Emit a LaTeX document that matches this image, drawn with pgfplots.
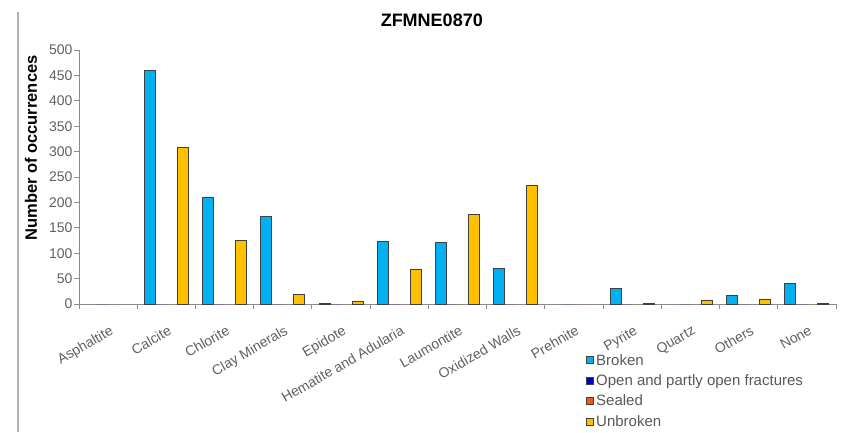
\documentclass[border=0pt]{standalone}
\usepackage{fontspec}
\setmainfont{Liberation Sans}
\usepackage{pgfplots}
\pgfplotsset{compat=1.18}
\definecolor{brokenc}{HTML}{00B0F0}
\definecolor{openc}{HTML}{0000CC}
\definecolor{sealedc}{HTML}{F05A14}
\definecolor{unbrokenc}{HTML}{FFC000}
\definecolor{bardraw}{HTML}{404040}
\definecolor{axisgray}{HTML}{8C8C8C}
\definecolor{ticktext}{HTML}{606060}
\definecolor{legtext}{HTML}{585858}
\pgfplotsset{mylegend/.style={legend image code/.code={\draw[##1, draw=bardraw, line width=0.8pt] (0pt,-3.5pt) rectangle (7pt,3.5pt);}}}
\begin{document}
\begin{tikzpicture}
\useasboundingbox (0pt,0pt) rectangle (856pt,432pt);
\draw[line width=1.2pt, color=gray!60] (18pt,0pt) -- (18pt,420pt);
\begin{axis}[
  at={(79pt,128pt)}, anchor=south west,
  width=757pt, height=254pt, scale only axis,
  xmin=-0.5, xmax=12.5, ymin=0, ymax=500,
  enlargelimits=false,
  axis x line*=bottom, axis y line*=left,
  axis line style={axisgray, line width=1pt},
  ybar=0pt, bar width=11pt,
  xtick={0,...,12},
  xticklabels={Asphaltite, Calcite, Chlorite, Clay Minerals, Epidote, Hematite and Adularia, Laumontite, Oxidized Walls, Prehnite, Pyrite, Quartz, Others, None},
  minor xtick={-0.5,0.5,...,12.5},
  every major x tick/.append style={draw=none},
  tick align=outside, major tick length=5pt, minor tick length=5pt,
  every tick/.append style={axisgray, line width=1pt},
  ytick={0,50,...,500},
  /pgf/number format/assume math mode=true,
  tick label style={font=\fontsize{14}{16}\selectfont, text=ticktext},
  yticklabel style={xshift=2pt},
  xticklabel style={rotate=30, anchor=north east, inner sep=1pt, yshift=-13pt, xshift=-6pt},
  title={ZFMNE0870},
  title style={font=\bfseries\fontsize{18}{20}\selectfont, at={(axis description cs:0.466,1.0925)}, anchor=center},
  ylabel={Number of occurrences},
  ylabel style={font=\bfseries\fontsize{16.5}{18}\selectfont, at={(axis description cs:-0.0634,0.614)}, anchor=center},
  legend style={at={(axis description cs:0.666,-0.181)}, anchor=north west, draw=none, fill=none, font=\fontsize{15}{17}\selectfont, text=legtext, row sep=4pt, /tikz/every even column/.append style={column sep=3pt}},
  legend cell align=left,
]
\addplot[fill=brokenc, draw=bardraw, line width=0.8pt, mylegend] coordinates {
  (1,459) (2,210) (3,172) (4,1) (5,124) (6,121) (7,70) (9,30) (11,16) (12,41)};
\addlegendentry{Broken}
\addplot[fill=openc, draw=none, mylegend] coordinates {
  (0,0) (1,0) (2,0) (3,0) (4,0) (5,0) (6,0) (7,0) (8,0) (9,0) (10,0) (11,0) (12,0)};
\addlegendentry{Open and partly open fractures}
\addplot[fill=sealedc, draw=none, mylegend] coordinates {
  (0,0) (1,0) (2,0) (3,0) (4,0) (5,0) (6,0) (7,0) (8,0) (9,0) (10,0) (11,0) (12,0)};
\addlegendentry{Sealed}
\addplot[fill=unbrokenc, draw=bardraw, line width=0.8pt, mylegend] coordinates {
  (1,308) (2,125) (3,18) (4,6) (5,68) (6,177) (7,233) (9,1) (10,8) (11,10) (12,1)};
\addlegendentry{Unbroken}
\end{axis}
\end{tikzpicture}
\end{document}
